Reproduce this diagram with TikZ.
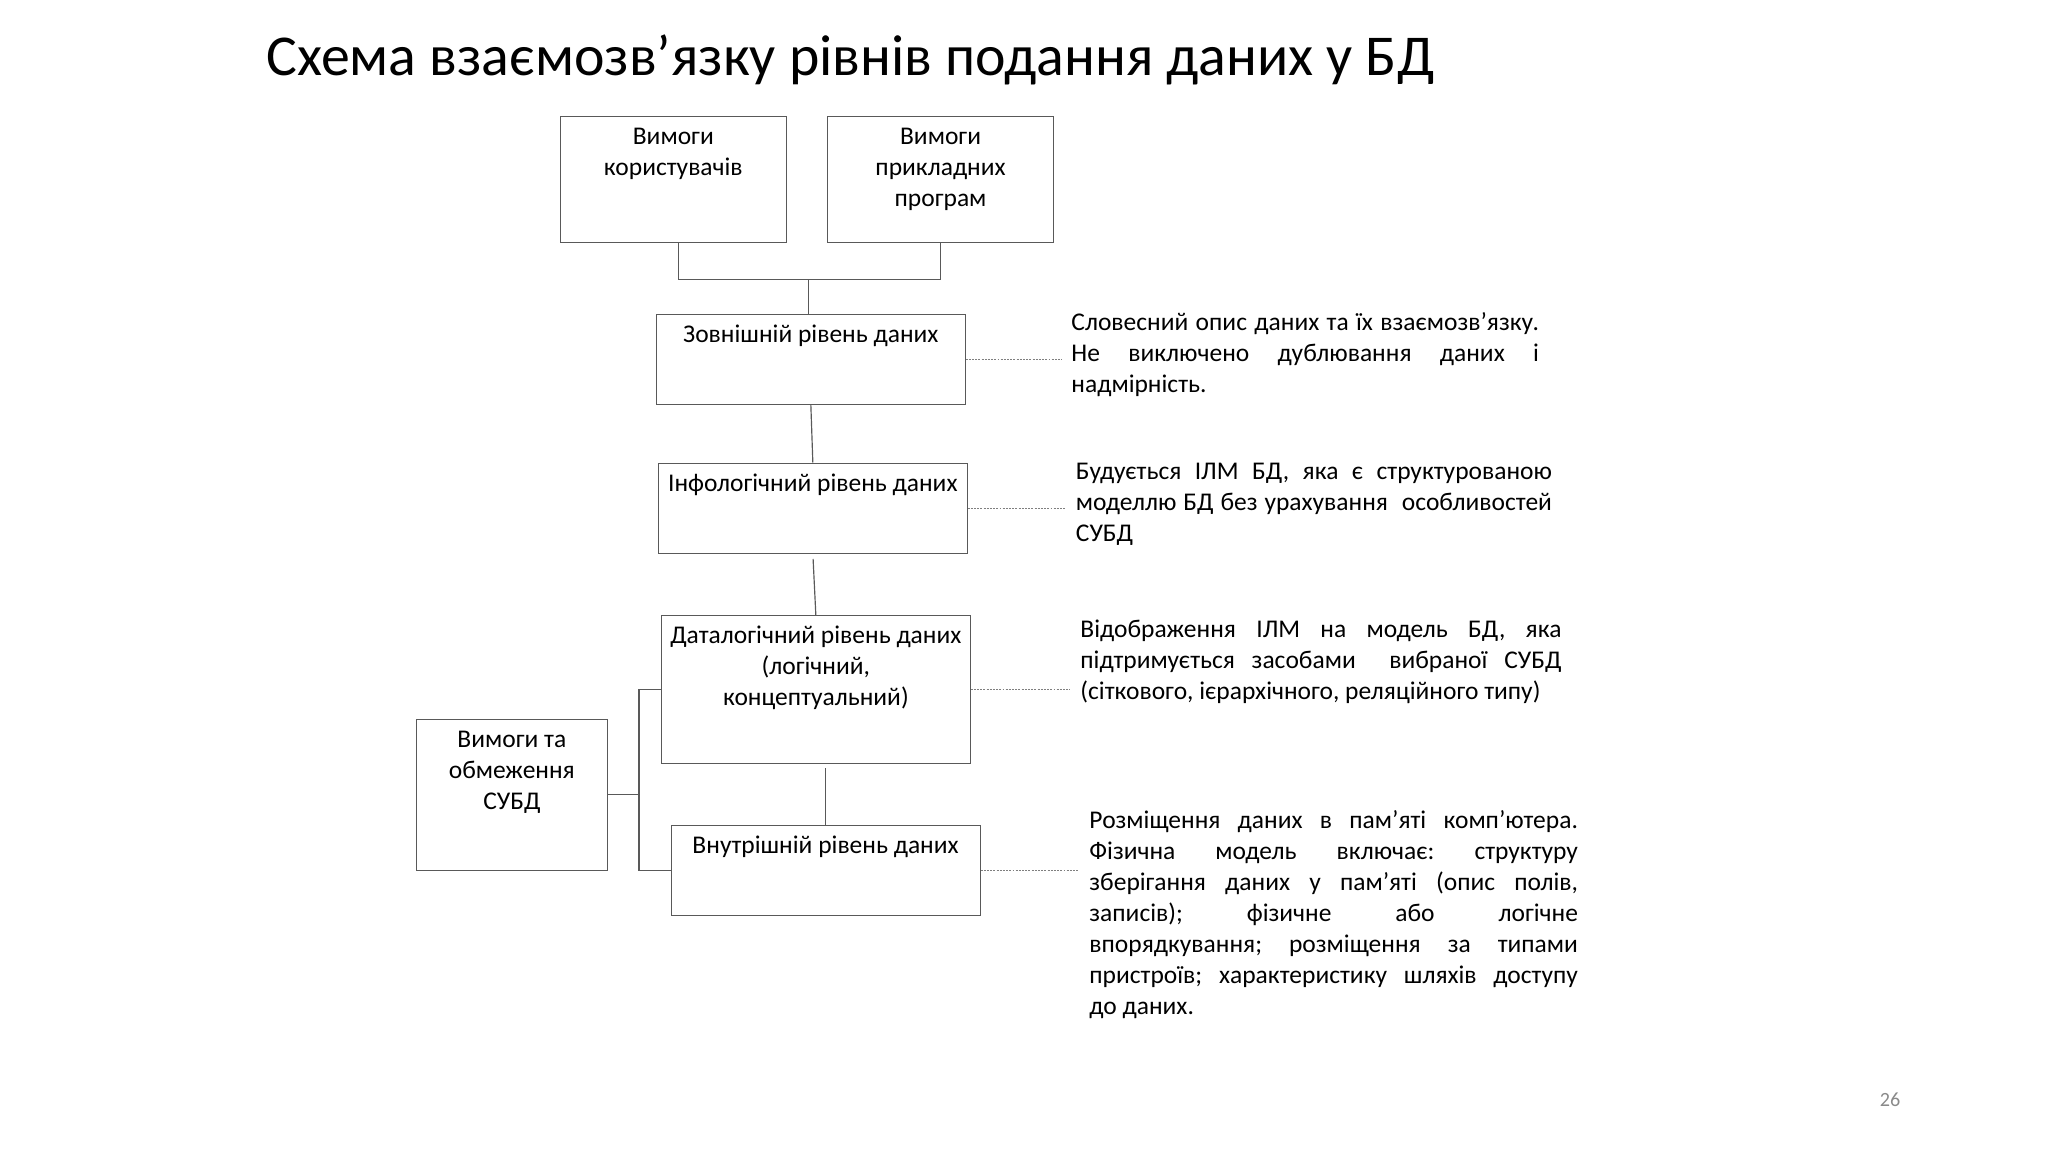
\documentclass[tikz,border=0pt]{standalone}
\usepackage{fontspec}
\setmainfont{Carlito}
\usepackage{tikz}
\definecolor{boxline}{HTML}{595959}
\definecolor{dotline}{HTML}{7F7F7F}
\definecolor{pagegray}{HTML}{8A8A8A}
\newlength{\unitpx}
\setlength{\unitpx}{0.016537cm}
\newcommand{\lvltext}[3]{\parbox[c][#2\unitpx][t]{#1\unitpx}{\centering\vspace*{3pt}\strut #3}}
\newcommand{\jl}[1]{\makebox[\linewidth][s]{#1}}
\frenchspacing

\begin{document}
\begin{tikzpicture}[x=0.016537cm,y=-0.016537cm,
  lvl/.style={draw=boxline,line width=0.55pt,inner sep=0pt,anchor=north west,font=\fontsize{12pt}{14.6pt}\selectfont},
  note/.style={inner sep=0pt,anchor=base west,font=\fontsize{12pt}{14.6pt}\selectfont},
  link/.style={draw=boxline,line width=0.55pt},
  dots/.style={draw=dotline,line width=0.5pt,dash pattern=on 0.9pt off 0.6pt,shorten >=4.5pt}]
\fill[white] (0,0) rectangle (2048,1152);
\useasboundingbox (0,0) rectangle (2048,1152);

\node[anchor=base west,inner sep=0pt,font=\fontsize{27.2pt}{33pt}\selectfont] (title) at (266,75) {Схема взаємозв’язку рівнів подання даних у БД};

\node[lvl] (users) at (559.5,116) {\lvltext{226.5}{126}{Вимоги\\користувачів}};
\node[lvl] (apps) at (827,116) {\lvltext{226}{126}{Вимоги\\прикладних\\програм}};
\node[lvl] (ext) at (656,313.5) {\lvltext{308.5}{90}{Зовнішній рівень даних}};
\node[lvl] (info) at (658,462.5) {\lvltext{308.5}{90}{Інфологічний рівень даних}};
\node[lvl] (datal) at (661,615) {\lvltext{308.5}{148}{Даталогічний рівень даних\\(логічний,\\концептуальний)}};
\node[lvl] (intl) at (670.5,824.5) {\lvltext{309}{90}{Внутрішній рівень даних}};
\node[lvl] (dbms) at (415.5,718.5) {\lvltext{191.5}{151}{Вимоги та\\обмеження\\СУБД}};

\node[note] (note1) at (1071,330) {\parbox[t]{467.5\unitpx}{\jl{Словесний опис даних та їх взаємозв’язку.}\\ \jl{Не виключено дублювання даних і}\\ надмірність.}};
\node[note] (note2) at (1075.5,479) {\parbox[t]{476\unitpx}{\jl{Будується ІЛМ БД, яка є структурованою}\\ \jl{моделлю БД без урахування\ \ особливостей}\\ СУБД}};
\node[note] (note3) at (1080,637) {\parbox[t]{481\unitpx}{\jl{Відображення ІЛМ на модель БД, яка}\\ \jl{підтримується засобами\ \ вибраної СУБД}\\ (сіткового, ієрархічного, реляційного типу)}};
\node[note] (note4) at (1089,828) {\parbox[t]{488.5\unitpx}{\jl{Розміщення даних в пам’яті комп’ютера.}\\ \jl{Фізична модель включає: структуру}\\ \jl{зберігання даних у пам’яті (опис полів,}\\ \jl{записів); фізичне або логічне}\\ \jl{впорядкування; розміщення за типами}\\ \jl{пристроїв; характеристику шляхів доступу}\\ до даних.}};

\node[text=pagegray,inner sep=0pt,font=\fontsize{9.5pt}{11pt}\selectfont] (page) at (1890,1100) {26};

\coordinate (top) at (808.4,279.5);
\coordinate (br) at (639,791.7);

\draw[link] ([xshift=2.6pt]users.south) |- (top) -| (apps.south);
\draw[link] (top) -- (top |- ext.north);
\draw[link] (ext.south) -- (info.north);
\draw[link,shorten <=2.5pt] (info.south) -- (datal.north);
\draw[link,shorten <=1.9pt] (datal.south -| intl.north) -- (intl.north);
\draw[link] (dbms.east) -- (dbms.east -| br);
\draw[link] (datal.west) -| (br) |- (intl.west);

\draw[dots] (ext.east) -- (ext.east -| note1.west);
\draw[dots] (info.east) -- (info.east -| note2.west);
\draw[dots] (datal.east) -- (datal.east -| note3.west);
\draw[dots] (intl.east) -- (intl.east -| note4.west);

\end{tikzpicture}
\end{document}
